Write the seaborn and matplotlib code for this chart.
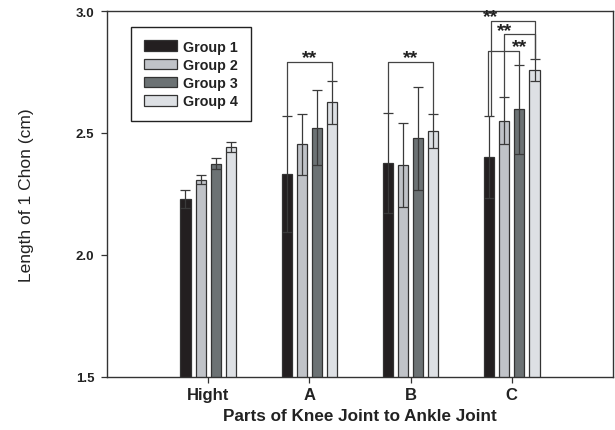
import matplotlib
matplotlib.use("Agg")
import matplotlib.pyplot as plt
import seaborn as sns
import pandas as pd

# Knee-to-ankle segments and study groups
parts = ["Hight", "A", "B", "C"]
groups = ["Group 1", "Group 2", "Group 3", "Group 4"]

# Mean length of 1 Chon (cm) per group, one value per part
g1_mean = [2.230, 2.332, 2.377, 2.400]
g2_mean = [2.309, 2.454, 2.370, 2.550]
g3_mean = [2.374, 2.522, 2.478, 2.597]
g4_mean = [2.443, 2.626, 2.508, 2.758]

# Standard deviations
g1_err = [0.038, 0.238, 0.205, 0.168]
g2_err = [0.019, 0.125, 0.172, 0.096]
g3_err = [0.022, 0.155, 0.210, 0.182]
g4_err = [0.020, 0.088, 0.068, 0.045]

# Significance brackets: part, first group, second group, bracket height, star position
sig_part = ["A", "B", "C", "C", "C"]
sig_g1 = [0, 0, 0, 1, 0]
sig_g2 = [3, 3, 3, 3, 2]
sig_height = [2.793, 2.793, 2.959, 2.905, 2.836]
sig_star_at = ["mid", "mid", "left", "left", "right"]
sig_label = ["**", "**", "**", "**", "**"]

means = [g1_mean, g2_mean, g3_mean, g4_mean]
errs = [g1_err, g2_err, g3_err, g4_err]

df = pd.DataFrame({
    "part": [p for g in groups for p in parts],
    "group": [g for g in groups for p in parts],
    "length": [v for m in means for v in m],
})

sns.set_theme(style="ticks")
plt.rcParams["font.family"] = ["Liberation Sans", "DejaVu Sans"]

colors = ["#231f20", "#c0c3c8", "#6c7274", "#dde0e4"]
edge = "#333333"

fig = plt.figure(figsize=(6.15, 4.31), dpi=100)
ax = fig.add_axes([107 / 615, 1 - 378 / 431, 506 / 615, 366 / 431])

sns.barplot(data=df, x="part", y="length", hue="group", order=parts,
            hue_order=groups, palette=colors, saturation=1, width=0.6,
            gap=0.33, errorbar=None, edgecolor=edge, linewidth=0.9, ax=ax)

# bar centres and tops taken from the drawn bars
bar_containers = list(ax.containers)
centers = {}
tops = {}
for gi, cont in enumerate(bar_containers):
    xs = []
    for pi, bar in enumerate(cont.patches):
        x = bar.get_x() + bar.get_width() / 2
        xs.append(x)
        centers[(parts[pi], gi)] = x
        tops[(parts[pi], gi)] = means[gi][pi] + errs[gi][pi]
    ax.errorbar(xs, means[gi], yerr=errs[gi], fmt="none", ecolor="#3a3a3a",
                elinewidth=0.9, capsize=3.6, capthick=0.9, zorder=3)

# significance brackets
leg_shift = {(2, 0): 0.02, (4, 0): -0.015}
for k in range(len(sig_part)):
    p, a, b, h = sig_part[k], sig_g1[k], sig_g2[k], sig_height[k]
    xa = centers[(p, a)] + leg_shift.get((k, 0), 0)
    xb = centers[(p, b)]
    ax.plot([xa, xa, xb, xb], [tops[(p, a)], h, h, tops[(p, b)]],
            color="#444444", lw=0.9, zorder=4, clip_on=False)
    if sig_star_at[k] == "mid":
        xs = (xa + xb) / 2
    elif sig_star_at[k] == "left":
        xs = xa
    else:
        xs = xb
    ax.annotate(sig_label[k], (xs, h), xytext=(0, -0.3),
                textcoords="offset points", ha="center", va="baseline",
                fontsize=14, fontweight="bold", color="#222222")

ax.set_xlim(-1, 4)
ax.set_ylim(1.5, 3.0)
ax.set_yticks([1.5, 2.0, 2.5, 3.0])
ax.set_yticklabels(["1.5", "2.0", "2.5", "3.0"])

for s in ax.spines.values():
    s.set_visible(True)
    s.set_color("#333333")
    s.set_linewidth(1.0)

ax.tick_params(axis="both", direction="out", length=4.5, width=0.9,
               color="#333333")
ax.tick_params(axis="x", labelsize=12, pad=3)
ax.tick_params(axis="y", labelsize=9.5, pad=4.5)
for lab in ax.get_xticklabels() + ax.get_yticklabels():
    lab.set_fontweight("bold")
    lab.set_color("#222222")

ax.set_xlabel("Parts of Knee Joint to Ankle Joint", fontsize=12.3,
              fontweight="bold", color="#222222", labelpad=4)
ax.set_ylabel("Length of 1 Chon (cm)", fontsize=12.5, color="#222222",
              labelpad=30)

handles, labels = ax.get_legend_handles_labels()
leg = ax.legend(handles, labels, loc="upper left",
                bbox_to_anchor=(0.047, 0.957), frameon=True, fancybox=False,
                edgecolor="#222222", framealpha=1, borderaxespad=0,
                handlelength=2.3, handleheight=0.75, handletextpad=0.45,
                labelspacing=0.3, borderpad=0.9, fontsize=10.3)
leg.get_frame().set_linewidth(1.0)
for t in leg.get_texts():
    t.set_fontweight("bold")
    t.set_color("#222222")

fig.savefig("out.png", dpi=100)
